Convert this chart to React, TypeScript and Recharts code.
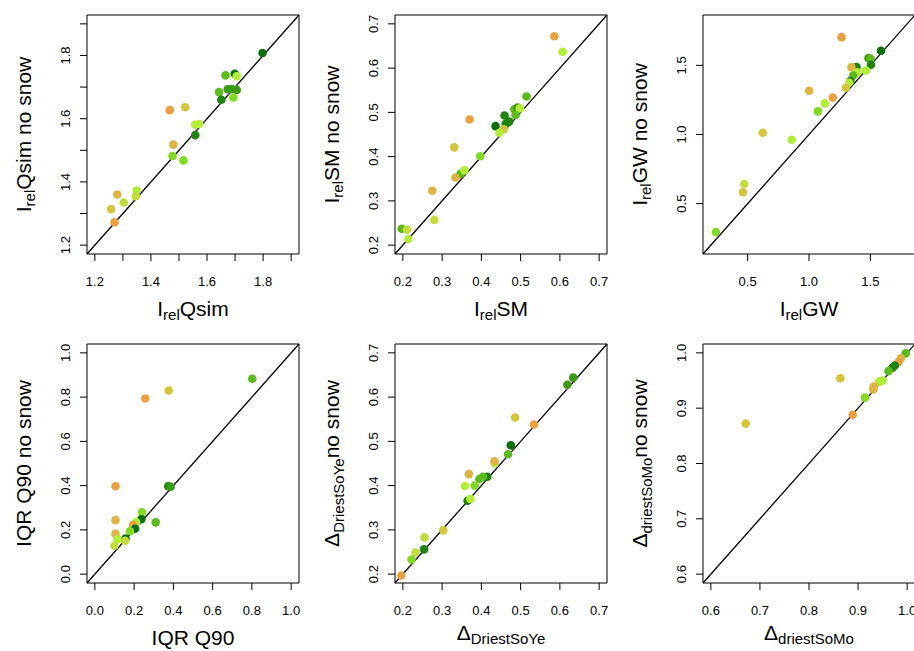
import React from 'react';
import { ScatterChart, Scatter, XAxis, YAxis, ReferenceLine, ReferenceArea } from 'recharts';

// colour classes of the catchments, from orange to dark green
const palette = ['#EBA040', '#DFB442', '#D3C63A', '#C3DC3A', '#B2EE34', '#82DA22', '#5CBA1A', '#3B9C12', '#1E840E', '#08700A'];

// I_rel Qsim
const qsimX = [1.798, 1.666, 1.699, 1.706, 1.643, 1.674, 1.688, 1.706, 1.651, 1.694, 1.467, 1.522, 1.558, 1.572, 1.558, 1.48, 1.477, 1.516, 1.349, 1.346, 1.28, 1.303, 1.258, 1.27];
const qsimY = [1.808, 1.737, 1.742, 1.734, 1.684, 1.693, 1.694, 1.691, 1.66, 1.667, 1.627, 1.636, 1.581, 1.583, 1.548, 1.518, 1.482, 1.468, 1.373, 1.355, 1.36, 1.335, 1.314, 1.272];
const qsimG = [9, 6, 9, 4, 6, 7, 7, 7, 8, 5, 0, 2, 4, 4, 8, 1, 5, 5, 4, 3, 1, 3, 2, 0];

// I_rel SM
const smX = [0.586, 0.607, 0.515, 0.484, 0.492, 0.498, 0.487, 0.459, 0.471, 0.462, 0.436, 0.457, 0.446, 0.37, 0.331, 0.397, 0.347, 0.357, 0.334, 0.275, 0.28, 0.197, 0.211, 0.214];
const smY = [0.672, 0.637, 0.536, 0.507, 0.511, 0.509, 0.494, 0.493, 0.479, 0.474, 0.469, 0.462, 0.454, 0.484, 0.421, 0.401, 0.361, 0.369, 0.353, 0.323, 0.257, 0.237, 0.235, 0.214];
const smG = [0, 4, 6, 6, 7, 4, 6, 8, 8, 8, 9, 2, 4, 0, 2, 5, 6, 4, 1, 1, 3, 6, 3, 4];

// I_rel GW
const gwX = [1.265, 1.587, 1.485, 1.502, 1.505, 1.387, 1.346, 1.464, 1.393, 1.36, 1.338, 1.328, 1.301, 1.001, 1.194, 1.129, 1.072, 0.623, 0.859, 0.472, 0.462, 0.241];
const gwY = [1.704, 1.605, 1.552, 1.548, 1.504, 1.487, 1.487, 1.463, 1.449, 1.427, 1.386, 1.374, 1.338, 1.316, 1.268, 1.225, 1.167, 1.013, 0.962, 0.642, 0.582, 0.295];
const gwG = [0, 9, 7, 6, 8, 8, 1, 4, 4, 6, 8, 4, 2, 1, 0, 4, 5, 2, 4, 3, 2, 5];

// IQR Q90
const iqrX = [0.802, 0.376, 0.257, 0.105, 0.374, 0.386, 0.24, 0.237, 0.31, 0.105, 0.21, 0.195, 0.205, 0.179, 0.105, 0.156, 0.115, 0.154, 0.1];
const iqrY = [0.883, 0.83, 0.794, 0.397, 0.397, 0.395, 0.279, 0.248, 0.234, 0.244, 0.235, 0.223, 0.205, 0.194, 0.182, 0.161, 0.157, 0.151, 0.128];
const iqrG = [6, 2, 0, 0, 8, 7, 5, 9, 6, 1, 4, 0, 9, 5, 1, 9, 4, 3, 3];

// Delta DriestSoYe
const soyeX = [0.634, 0.619, 0.486, 0.534, 0.475, 0.468, 0.434, 0.433, 0.368, 0.415, 0.404, 0.395, 0.358, 0.383, 0.365, 0.372, 0.303, 0.255, 0.254, 0.232, 0.222, 0.196];
const soyeY = [0.644, 0.628, 0.554, 0.538, 0.491, 0.471, 0.45, 0.455, 0.426, 0.42, 0.42, 0.415, 0.399, 0.4, 0.366, 0.37, 0.299, 0.283, 0.256, 0.249, 0.233, 0.197];
const soyeG = [7, 7, 2, 0, 9, 6, 4, 1, 1, 8, 6, 6, 4, 5, 8, 4, 2, 3, 8, 3, 5, 0];

// Delta driestSoMo
const somoX = [0.997, 0.987, 0.982, 0.975, 0.97, 0.962, 0.95, 0.943, 0.932, 0.931, 0.914, 0.889, 0.864, 0.671];
const somoY = [0.999, 0.99, 0.983, 0.977, 0.973, 0.967, 0.95, 0.948, 0.939, 0.934, 0.919, 0.888, 0.954, 0.872];
const somoG = [6, 1, 0, 8, 8, 6, 4, 4, 1, 1, 5, 0, 2, 2];

// ticks and tick labels
const qsimTicks = [1.2, 1.3, 1.4, 1.5, 1.6, 1.7, 1.8, 1.9];
const qsimLabels = [1.2, 1.4, 1.6, 1.8];
const smTicks = [0.2, 0.3, 0.4, 0.5, 0.6, 0.7];
const gwTicks = [0.5, 1.0, 1.5];
const iqrTicks = [0, 0.2, 0.4, 0.6, 0.8, 1.0];
const somoTicks = [0.6, 0.7, 0.8, 0.9, 1.0];

const FONT = '"Liberation Sans", Arial, Helvetica, sans-serif';
const BOX_L = 80;
const BOX_T = 5;
const BOX_W = 212;
const BOX_H = 239;
const X_H = 85;

type Title = { main: string; sub?: string; rest?: string; dy?: number; gap?: number };

function TitleText({ x, y, rotate, t }: { x: number; y: number; rotate?: boolean; t: Title }) {
  const dy = t.dy ?? 4;
  return (
    <text
      x={x}
      y={y}
      textAnchor="middle"
      fontFamily={FONT}
      fontSize={21}
      fill="#000"
      transform={rotate ? `rotate(-90 ${x} ${y})` : undefined}
    >
      <tspan>{t.main}</tspan>
      {t.sub && <tspan fontSize={15} dy={dy}>{t.sub}</tspan>}
      {t.rest && <tspan fontSize={21} dy={t.sub ? -dy : 0}>{t.rest}</tspan>}
    </text>
  );
}

const hasLabel = (labels: number[], v: number) => labels.some((l) => Math.abs(l - v) < 1e-9);

const XTick = ({ x, payload, labels }: any) =>
  hasLabel(labels, payload.value) ? (
    <text x={x} y={BOX_T + BOX_H + 32} textAnchor="middle" fontFamily={FONT} fontSize={13} fill="#000">
      {payload.value.toFixed(1)}
    </text>
  ) : null;

const YTick = ({ y, payload, labels }: any) => {
  const x = BOX_L - 17;
  return hasLabel(labels, payload.value) ? (
    <text x={x} y={y} textAnchor="middle" fontFamily={FONT} fontSize={13} fill="#000" transform={`rotate(-90 ${x} ${y})`}>
      {payload.value.toFixed(1)}
    </text>
  ) : null;
};

interface PanelProps {
  left: number;
  top: number;
  xs: number[];
  ys: number[];
  gs: number[];
  lim: [number, number];
  ticks: number[];
  labels: number[];
  xTitle: Title;
  yTitle: Title;
}

function Panel({ left, top, xs, ys, gs, lim, ticks, labels, xTitle, yTitle }: PanelProps) {
  const data = xs.map((x, i) => ({ x, y: ys[i], color: palette[gs[i]] }));
  const [lo, hi] = lim;
  const xGap = xTitle.gap ?? 62;
  return (
    <div style={{ position: 'absolute', left: left - BOX_L, top: top - BOX_T }}>
      <ScatterChart width={BOX_L + BOX_W + 5} height={BOX_T + BOX_H + X_H} margin={{ top: BOX_T, right: 5, bottom: 0, left: 0 }}>
        <XAxis
          type="number"
          dataKey="x"
          domain={[lo, hi]}
          allowDataOverflow
          ticks={ticks}
          interval={0}
          height={X_H}
          axisLine={false}
          tickSize={7}
          tickLine={{ stroke: '#000' }}
          tick={<XTick labels={labels} />}
          label={{ content: () => <TitleText x={BOX_L + BOX_W / 2} y={BOX_T + BOX_H + xGap} t={xTitle} /> }}
        />
        <YAxis
          type="number"
          dataKey="y"
          domain={[lo, hi]}
          allowDataOverflow
          ticks={ticks}
          interval={0}
          width={BOX_L}
          axisLine={false}
          tickSize={7}
          tickLine={{ stroke: '#000' }}
          tick={<YTick labels={labels} />}
          label={{ content: () => <TitleText x={BOX_L - 56} y={BOX_T + BOX_H / 2} rotate t={yTitle} /> }}
        />
        <ReferenceLine
          segment={[{ x: lo, y: lo }, { x: hi, y: hi }]}
          stroke="#000"
          strokeWidth={1.3}
          ifOverflow="visible"
        />
        <Scatter
          data={data}
          isAnimationActive={false}
          shape={(p: any) => <circle cx={p.cx} cy={p.cy} r={4.3} fill={p.payload.color} />}
        />
        <ReferenceArea x1={lo} x2={hi} y1={lo} y2={hi} fill="none" stroke="#000" strokeWidth={1} ifOverflow="visible" />
      </ScatterChart>
    </div>
  );
}

export default function App() {
  const col = [86.7, 395, 703];
  const row = [14.7, 344.3];
  return (
    <div style={{ position: 'fixed', left: 0, top: 0, width: 914, height: 651, overflow: 'hidden', background: '#fff' }}>
      <Panel left={col[0]} top={row[0]} xs={qsimX} ys={qsimY} gs={qsimG} lim={[1.172, 1.928]} ticks={qsimTicks} labels={qsimLabels}
        xTitle={{ main: 'I', sub: 'rel', rest: 'Qsim' }} yTitle={{ main: 'I', sub: 'rel', rest: 'Qsim no snow' }} />
      <Panel left={col[1]} top={row[0]} xs={smX} ys={smY} gs={smG} lim={[0.18, 0.72]} ticks={smTicks} labels={smTicks}
        xTitle={{ main: 'I', sub: 'rel', rest: 'SM' }} yTitle={{ main: 'I', sub: 'rel', rest: 'SM no snow' }} />
      <Panel left={col[2]} top={row[0]} xs={gwX} ys={gwY} gs={gwG} lim={[0.136, 1.864]} ticks={gwTicks} labels={gwTicks}
        xTitle={{ main: 'I', sub: 'rel', rest: 'GW' }} yTitle={{ main: 'I', sub: 'rel', rest: 'GW no snow' }} />
      <Panel left={col[0]} top={row[1]} xs={iqrX} ys={iqrY} gs={iqrG} lim={[-0.04, 1.04]} ticks={iqrTicks} labels={iqrTicks}
        xTitle={{ main: 'IQR Q90' }} yTitle={{ main: 'IQR Q90 no snow' }} />
      <Panel left={col[1]} top={row[1]} xs={soyeX} ys={soyeY} gs={soyeG} lim={[0.18, 0.72]} ticks={smTicks} labels={smTicks}
        xTitle={{ main: 'Δ', sub: 'DriestSoYe', dy: 4, gap: 57 }} yTitle={{ main: 'Δ', sub: 'DriestSoYe', rest: 'no snow', dy: 5 }} />
      <Panel left={col[2]} top={row[1]} xs={somoX} ys={somoY} gs={somoG} lim={[0.584, 1.016]} ticks={somoTicks} labels={somoTicks}
        xTitle={{ main: 'Δ', sub: 'driestSoMo', dy: 4, gap: 57 }} yTitle={{ main: 'Δ', sub: 'driestSoMo', rest: 'no snow', dy: 5 }} />
    </div>
  );
}
